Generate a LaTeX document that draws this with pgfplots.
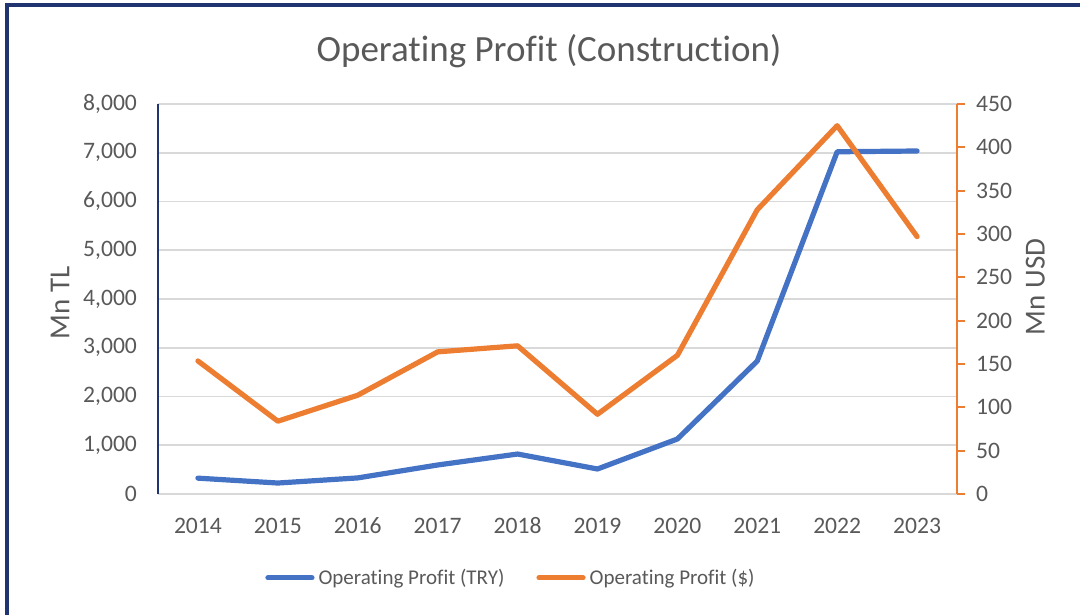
\documentclass[border=0pt]{standalone}
\usepackage{pgfplots}
\pgfplotsset{compat=1.18}
\usepackage{fontspec}
\setmainfont{Carlito}[Ligatures=NoCommon]
\definecolor{tryblue}{HTML}{4472C4}
\definecolor{usdorange}{HTML}{ED7D31}
\definecolor{txtgray}{HTML}{595959}
\definecolor{gridgray}{HTML}{D9D9D9}
\definecolor{navy}{HTML}{1F3470}
\begin{document}
\begin{tikzpicture}
\useasboundingbox (0,0) rectangle (540pt,307.5pt);
\draw[navy, line width=1.6pt] (3.5pt,0) -- (3.5pt,305pt) -- (540pt,305pt);
\node[txtgray, font=\fontsize{18.5}{21}\selectfont] at (274.5pt,282pt) {Operating Profit (Construction)};
\begin{axis}[
  at={(79pt,60.5pt)}, anchor=south west,
  scale only axis, width=399.5pt, height=195pt,
  xmin=-0.5, xmax=9.5, ymin=0, ymax=8000,
  xtick={0,...,9},
  xticklabels={2014,2015,2016,2017,2018,2019,2020,2021,2022,2023},
  ytick={0,1000,...,8000},
  axis y line*=left, axis x line*=bottom,
  x axis line style={gridgray, line width=0.8pt, -},
  y axis line style={navy, line width=0.8pt, -},
  major tick length=0pt,
  ymajorgrids, grid style={gridgray, line width=0.8pt},
  tick label style={txtgray, font=\fontsize{11.8}{13}\selectfont},
  /pgf/number format/assume math mode=true,
  /pgf/number format/.cd, 1000 sep={,},
  /pgfplots/.cd,
  yticklabel style={xshift=-7pt},
  xticklabel style={anchor=base, yshift=-20pt},
  scaled y ticks=false,
  ylabel={Mn TL},
  every axis y label/.style={at={(ticklabel cs:0.5)}, rotate=90, anchor=south, xshift=-2pt, text=txtgray, font=\fontsize{14.5}{16}\selectfont},
]
\addplot[tryblue, line width=2.6pt, line cap=round, line join=round] coordinates {
(0,325) (1,225) (2,330) (3,595) (4,820) (5,513) (6,1128) (7,2728) (8,7020) (9,7036)};
\end{axis}
\begin{axis}[
  at={(79pt,60.5pt)}, anchor=south west,
  scale only axis, width=399.5pt, height=195pt,
  xmin=-0.5, xmax=9.5, ymin=0, ymax=450,
  ytick={0,50,...,450},
  axis y line*=right, axis x line=none,
  y axis line style={usdorange, line width=0.9pt, -},
  ytick style={usdorange, line width=0.9pt},
  tick align=outside, major tick length=4pt,
  tick label style={txtgray, font=\fontsize{11.8}{13}\selectfont},
  /pgf/number format/assume math mode=true,
  yticklabel style={xshift=2pt},
  ylabel={Mn USD},
  every axis y label/.style={at={(ticklabel cs:0.5)}, rotate=90, anchor=north, xshift=6pt, text=txtgray, font=\fontsize{14.5}{16}\selectfont},
  legend columns=2,
  legend style={at={(0.443,-0.215)}, anchor=center, draw=none, fill=none,
    font=\fontsize{10.5}{12}\selectfont, text=txtgray,
    /tikz/every even column/.append style={column sep=14pt},
    inner sep=0pt},
  legend image code/.code={\draw[#1, line width=2.6pt, line cap=round] (0pt,0pt) -- (22pt,0pt);},
]
\addlegendimage{tryblue}
\addlegendentry{Operating Profit (TRY)}
\addplot[usdorange, line width=2.6pt, line cap=round, line join=round] coordinates {
(0,153.5) (1,84) (2,114) (3,164) (4,171) (5,92) (6,160) (7,328) (8,425) (9,297)};
\addlegendentry{Operating Profit (\$)}
\end{axis}
\end{tikzpicture}
\end{document}
